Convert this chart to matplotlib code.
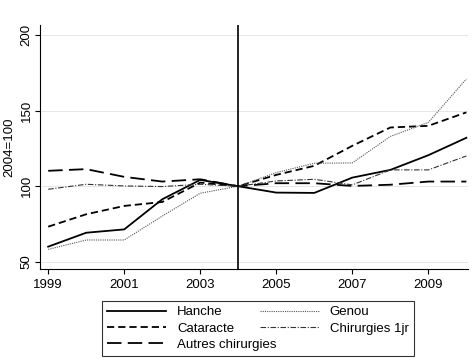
import matplotlib
matplotlib.use('Agg')
import matplotlib.pyplot as plt

plt.rcParams['font.family'] = ['Liberation Sans', 'DejaVu Sans']

years = list(range(1999, 2011))

hanche = [60.1, 69.3, 71.5, 91.4, 104.2, 100, 95.8, 95.6, 105.7, 110.8, 120.5, 132.0]
genou = [58.3, 64.5, 64.5, 80.3, 95.4, 100, 109.0, 115.2, 115.4, 132.9, 142.2, 170.8]
cataracte = [73.3, 81.5, 87.0, 89.6, 102.4, 100, 107.5, 113.5, 126.7, 138.8, 139.9, 148.8]
autres = [110.2, 111.3, 106.2, 103.1, 104.6, 100, 102.0, 102.0, 100.2, 101.0, 103.1, 103.1]
chir_1jr = [98.0, 101.3, 100.2, 99.8, 101.3, 100, 103.5, 104.6, 100.9, 110.8, 110.8, 120.0]

yticks = [50, 100, 150, 200]
xticks = [1999, 2001, 2003, 2005, 2007, 2009]

fig = plt.figure(figsize=(4.73, 3.6), dpi=100)
ax = fig.add_axes([0.085, 0.253, 0.905, 0.678])

for y in yticks:
    ax.axhline(y, color='#e2e2e2', lw=0.6, zorder=0)

l1, = ax.plot(years, hanche, color='black', lw=1.3, label='Hanche')
l2, = ax.plot(years, cataracte, color='black', lw=1.3, dashes=(4, 2.2), label='Cataracte')
l3, = ax.plot(years, autres, color='black', lw=1.3, dashes=(8, 3.5), label='Autres chirurgies')
l4, = ax.plot(years, genou, color='#555555', lw=0.8, dashes=(1, 1), label='Genou')
l5, = ax.plot(years, chir_1jr, color='#333333', lw=0.8, dashes=(5, 1.5, 1, 1.5), label='Chirurgies 1jr')

ax.axvline(2004, color='black', lw=1.2)

ax.set_xlim(1998.79, 2010.05)
ax.set_ylim(45.4, 206.6)
ax.set_xticks(xticks)
ax.set_yticks(yticks)
ax.set_yticklabels([str(v) for v in yticks], rotation=90, va='center')
ax.tick_params(labelsize=9.5, length=3.5, width=0.8, direction='out')
ax.tick_params(axis='y', pad=2)
ax.set_ylabel('2004=100', fontsize=9.5, labelpad=4)
ax.spines['top'].set_visible(False)
ax.spines['right'].set_visible(False)

leg = fig.legend(handles=[l1, l2, l3, l4, l5], ncol=2, loc='lower left',
                 bbox_to_anchor=(0.215, 0.011, 0.66, 0.164), mode='expand',
                 fontsize=9.5, frameon=True, fancybox=False, edgecolor='black',
                 handlelength=4.5, columnspacing=2.0, labelspacing=0.3,
                 borderaxespad=0)
leg.get_frame().set_linewidth(0.8)

fig.savefig('out.png', dpi=100)
